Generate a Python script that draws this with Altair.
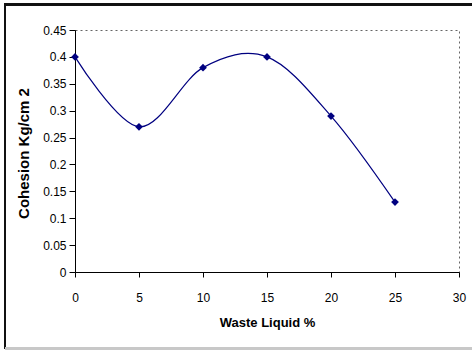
import altair as alt
import pandas as pd

waste_liquid = [0, 5, 10, 15, 20, 25]
cohesion = [0.40, 0.27, 0.38, 0.40, 0.29, 0.13]
x_ticks = [0, 5, 10, 15, 20, 25, 30]
y_ticks = [0, 0.05, 0.1, 0.15, 0.2, 0.25, 0.3, 0.35, 0.4, 0.45]

df = pd.DataFrame({"x": waste_liquid, "y": cohesion})

FONT = "Liberation Sans"
NAVY = "#000080"

xenc = alt.X("x:Q", scale=alt.Scale(domain=[0, 30], nice=False),
             axis=alt.Axis(values=x_ticks, title="Waste Liquid %", grid=False,
                           tickSize=5, labelPadding=15, labelFontSize=12,
                           labelFlush=False, labelOverlap=False,
                           titleFontSize=13, titleFontWeight="bold",
                           titleBaseline="alphabetic", titleY=54))
yenc = alt.Y("y:Q", scale=alt.Scale(domain=[0, 0.45], nice=False, zero=True),
             axis=alt.Axis(values=y_ticks, format="~g", title="Cohesion Kg/cm 2",
                           grid=False, tickSize=6, labelPadding=3, labelFontSize=12,
                           labelFlush=False, labelOverlap=False,
                           titleFontSize=15, titleFontWeight="bold",
                           titleBaseline="alphabetic", titleAngle=-90,
                           titleAlign="center", titleX=-47, titleY=123))

line = alt.Chart(df).mark_line(interpolate="cardinal", color=NAVY, strokeWidth=1.2).encode(
    x=xenc, y=yenc)
pts = alt.Chart(df).mark_point(shape="diamond", filled=True, size=60, color=NAVY, opacity=1).encode(
    x=xenc, y=yenc)

frame_top = alt.Chart(df).mark_rule(color="#111111", strokeWidth=2).encode(
    x=alt.value(-70), x2=alt.value(397), y=alt.value(-25.5))
frame_left = alt.Chart(df).mark_rule(color="#111111", strokeWidth=2).encode(
    x=alt.value(-70), y=alt.value(-26.5), y2=alt.value(318.5))
frame_bottom = alt.Chart(df).mark_rule(color="#c8c8c8", strokeWidth=2).encode(
    x=alt.value(-70), x2=alt.value(397), y=alt.value(318.5))

chart = alt.layer(line, pts, frame_top, frame_left, frame_bottom).properties(
    width=384, height=242,
    autosize=alt.AutoSizeParams(type="none"),
    padding={"left": 75, "top": 30, "right": 13, "bottom": 78},
    background="white",
).configure_view(
    stroke="#666666", strokeDash=[2, 3], strokeWidth=1
).configure_axis(
    domainColor="black", tickColor="black", labelColor="black", titleColor="black",
    labelFont=FONT, titleFont=FONT, domainWidth=1, tickWidth=1
)

chart.save("out.html", embed_options={"renderer": "svg", "actions": False})
